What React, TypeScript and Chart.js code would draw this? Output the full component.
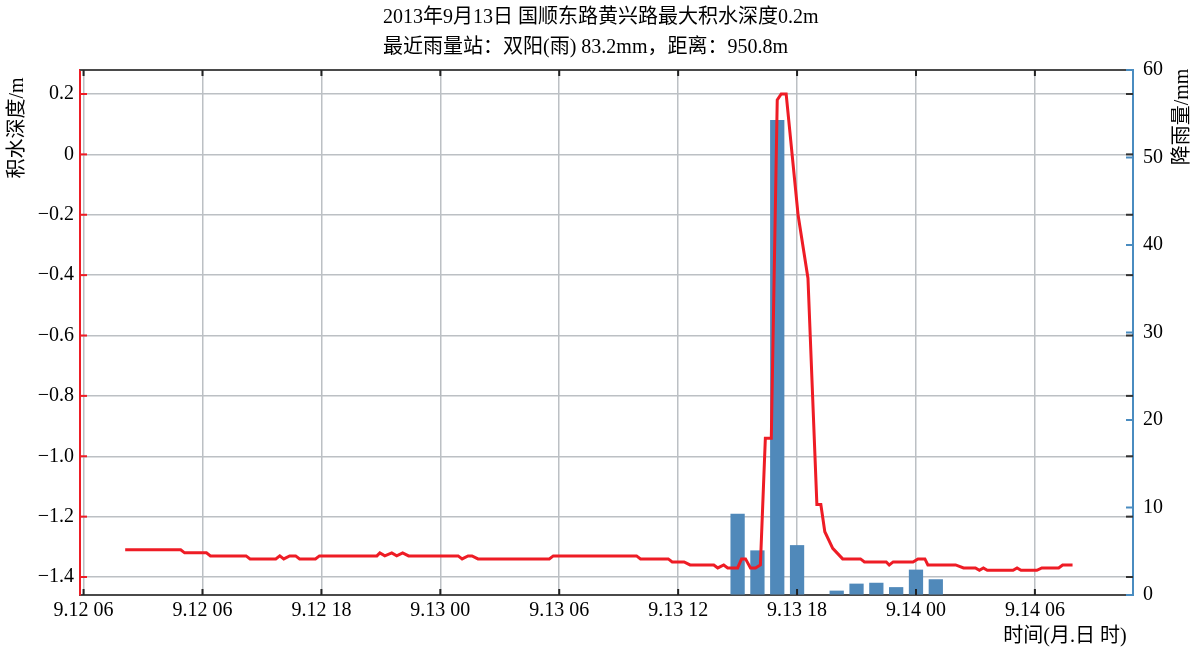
import React, { useEffect, useRef } from "react";
import { Chart, registerables } from "chart.js";

Chart.register(...registerables);

const titleLines = [
  "2013年9月13日 国顺东路黄兴路最大积水深度0.2m",
  "最近雨量站：双阳(雨) 83.2mm，距离：950.8m",
];
const leftAxisTitle = "积水深度/m";
const rightAxisTitle = "降雨量/mm";
const xAxisTitle = "时间(月.日 时)";

// hours counted from the first x tick
const xTickHours = [0, 6, 12, 18, 24, 30, 36, 42, 48];
const xTickLabels = ["9.12 06", "9.12 06", "9.12 18", "9.13 00", "9.13 06", "9.13 12", "9.13 18", "9.14 00", "9.14 06"];

const depthTicks = [0.2, 0, -0.2, -0.4, -0.6, -0.8, -1.0, -1.2, -1.4];
const depthTickLabels = ["0.2", "0", "\u22120.2", "\u22120.4", "\u22120.6", "\u22120.8", "\u22121.0", "\u22121.2", "\u22121.4"];

const rainTicks = [0, 10, 20, 30, 40, 50, 60];
const rainTickLabels = ["0", "10", "20", "30", "40", "50", "60"];

const rainHours = [33, 34, 35, 36, 37, 38, 39, 40, 41, 42, 43];
const rainValues = [9.3, 5.1, 54.3, 5.7, 0, 0.5, 1.3, 1.4, 0.9, 2.9, 1.8];

const depthHours = [
  2.1, 4.9, 5.1, 6.2, 6.4, 8.2, 8.4, 9.7, 9.9, 10.1, 10.4, 10.7, 10.9, 11.7, 11.9,
  14.8, 14.95, 15.2, 15.55, 15.8, 16.1, 16.4, 18.9, 19.1, 19.4, 19.6, 19.9, 23.5, 23.7,
  27.9, 28.1, 29.5, 29.7, 30.3, 30.6, 31.8, 32.0, 32.3, 32.5, 33.0, 33.2, 33.4, 33.65,
  33.9, 34.15, 34.4, 34.7, 35.0, 35.2, 35.45, 36.05, 36.55, 37.0, 37.2, 37.4, 37.8,
  38.3, 39.2, 39.4, 40.5, 40.65, 40.85, 41.85, 42.1, 42.45, 42.6, 44.0, 44.4, 45.0,
  45.2, 45.4, 45.6, 46.9, 47.1, 47.3, 48.1, 48.35, 49.2, 49.4, 49.9,
];
const depthValues = [
  -1.31, -1.31, -1.32, -1.32, -1.33, -1.33, -1.34, -1.34, -1.33, -1.34, -1.33, -1.33, -1.34, -1.34, -1.33,
  -1.33, -1.32, -1.33, -1.32, -1.33, -1.32, -1.33, -1.33, -1.34, -1.33, -1.33, -1.34, -1.34, -1.33,
  -1.33, -1.34, -1.34, -1.35, -1.35, -1.36, -1.36, -1.37, -1.36, -1.37, -1.37, -1.34, -1.34, -1.37,
  -1.37, -1.36, -0.94, -0.94, 0.18, 0.2, 0.2, -0.2, -0.41, -1.16, -1.16, -1.25, -1.305,
  -1.34, -1.34, -1.35, -1.35, -1.36, -1.35, -1.35, -1.34, -1.34, -1.36, -1.36, -1.37, -1.37,
  -1.378, -1.37, -1.378, -1.378, -1.37, -1.378, -1.378, -1.37, -1.37, -1.36, -1.36,
];

const FONT = '"Liberation Serif", "Noto Sans CJK SC", serif';
const RED = "#ee1c25";
const BLUE = "#4a8cc0";
const DARK = "#4a4a4a";
const GRID = "#bcc0c4";

const decorPlugin = {
  id: "decor",
  afterDraw(chart: any) {
    const { ctx, chartArea, scales } = chart;
    const { left, right, top, bottom } = chartArea;
    const line = (x1: number, y1: number, x2: number, y2: number, color: string, w: number) => {
      ctx.beginPath();
      ctx.strokeStyle = color;
      ctx.lineWidth = w;
      ctx.moveTo(x1, y1);
      ctx.lineTo(x2, y2);
      ctx.stroke();
    };
    ctx.save();
    line(left, top, right, top, DARK, 2);
    xTickHours.forEach((h) => {
      const px = scales.x.getPixelForValue(h);
      line(px, bottom, px, bottom - 6, "#222", 2);
      line(px, top, px, top + 6, "#222", 2);
    });
    depthTicks.forEach((v) => {
      const py = scales.y.getPixelForValue(v);
      line(left, py, left + 7, py, RED, 2);
      line(right - 7, py, right, py, "#333", 2);
    });
    rainTicks.forEach((v) => {
      const py = scales.y1.getPixelForValue(v);
      line(right - 7, py, right, py, BLUE, 2);
    });

    ctx.fillStyle = "#000";
    ctx.font = `20px ${FONT}`;
    ctx.textAlign = "left";
    ctx.textBaseline = "middle";
    ctx.fillText(titleLines[0], 383, 18);
    ctx.fillText(titleLines[1], 383, 48);

    ctx.font = `20px ${FONT}`;
    ctx.textAlign = "center";
    ctx.save();
    ctx.translate(18, 128);
    ctx.rotate(-Math.PI / 2);
    ctx.fillText(leftAxisTitle, 0, 0);
    ctx.restore();
    ctx.save();
    ctx.translate(1183, 117);
    ctx.rotate(-Math.PI / 2);
    ctx.fillText(rightAxisTitle, 0, 0);
    ctx.restore();
    ctx.fillText(xAxisTitle, 1065, 637);
    ctx.restore();
  },
};

export default function App() {
  const ref = useRef<HTMLCanvasElement | null>(null);
  useEffect(() => {
    if (!ref.current) return;
    const chart = new Chart(ref.current, {
      type: "bar",
      data: {
        datasets: [
          {
            type: "line",
            label: "积水深度",
            data: depthHours.map((h, i) => ({ x: h, y: depthValues[i] })),
            borderColor: RED,
            borderWidth: 3,
            pointRadius: 0,
            tension: 0,
            yAxisID: "y",
            xAxisID: "x",
            order: 0,
          } as any,
          {
            type: "bar",
            label: "降雨量",
            data: rainHours.map((h, i) => ({ x: h, y: rainValues[i] })),
            backgroundColor: "#5089ba",
            borderWidth: 0,
            barPercentage: 0.9,
            categoryPercentage: 0.8,
            yAxisID: "y1",
            xAxisID: "x",
            order: 1,
          } as any,
        ],
      },
      options: {
        animation: false,
        responsive: false,
        layout: { padding: { top: 70, left: 0, right: 0, bottom: 0 } },
        plugins: { legend: { display: false }, title: { display: false }, tooltip: { enabled: false } },
        scales: {
          x: {
            type: "linear",
            position: "bottom",
            offset: false,
            min: -0.18,
            max: 52.95,
            afterBuildTicks: (s: any) => {
              s.ticks = xTickHours.map((v) => ({ value: v }));
            },
            afterFit: (s: any) => {
              s.height = 54;
            },
            ticks: {
              callback: (_v: any, i: number) => xTickLabels[i],
              font: { family: FONT, size: 20 },
              color: "#000",
              padding: 4,
              maxRotation: 0,
              autoSkip: false,
            },
            grid: { color: GRID, lineWidth: 1.5, drawTicks: false, offset: false },
            border: { color: DARK, width: 2 },
          },
          y: {
            type: "linear",
            position: "left",
            min: -1.4596,
            max: 0.2795,
            afterBuildTicks: (s: any) => {
              s.ticks = depthTicks.map((v) => ({ value: v }));
            },
            afterFit: (s: any) => {
              s.width = 80;
            },
            ticks: {
              callback: (_v: any, i: number) => depthTickLabels[i],
              font: { family: FONT, size: 20 },
              color: "#000",
              padding: 6,
            },
            grid: { color: GRID, lineWidth: 1.5, drawTicks: false },
            border: { color: RED, width: 2 },
          },
          y1: {
            type: "linear",
            position: "right",
            min: 0,
            max: 60,
            afterBuildTicks: (s: any) => {
              s.ticks = rainTicks.map((v) => ({ value: v }));
            },
            afterFit: (s: any) => {
              s.width = 63;
            },
            ticks: {
              callback: (_v: any, i: number) => rainTickLabels[i],
              font: { family: FONT, size: 20 },
              color: "#000",
              padding: 10,
            },
            grid: { drawOnChartArea: false, drawTicks: false },
            border: { color: BLUE, width: 2 },
          },
        },
      } as any,
      plugins: [decorPlugin],
    });
    return () => chart.destroy();
  }, []);

  return (
    <div style={{ position: "absolute", left: 0, top: 0, width: 1196, height: 649, background: "#fff" }}>
      <canvas ref={ref} width={1196} height={649} style={{ display: "block" }} />
    </div>
  );
}
